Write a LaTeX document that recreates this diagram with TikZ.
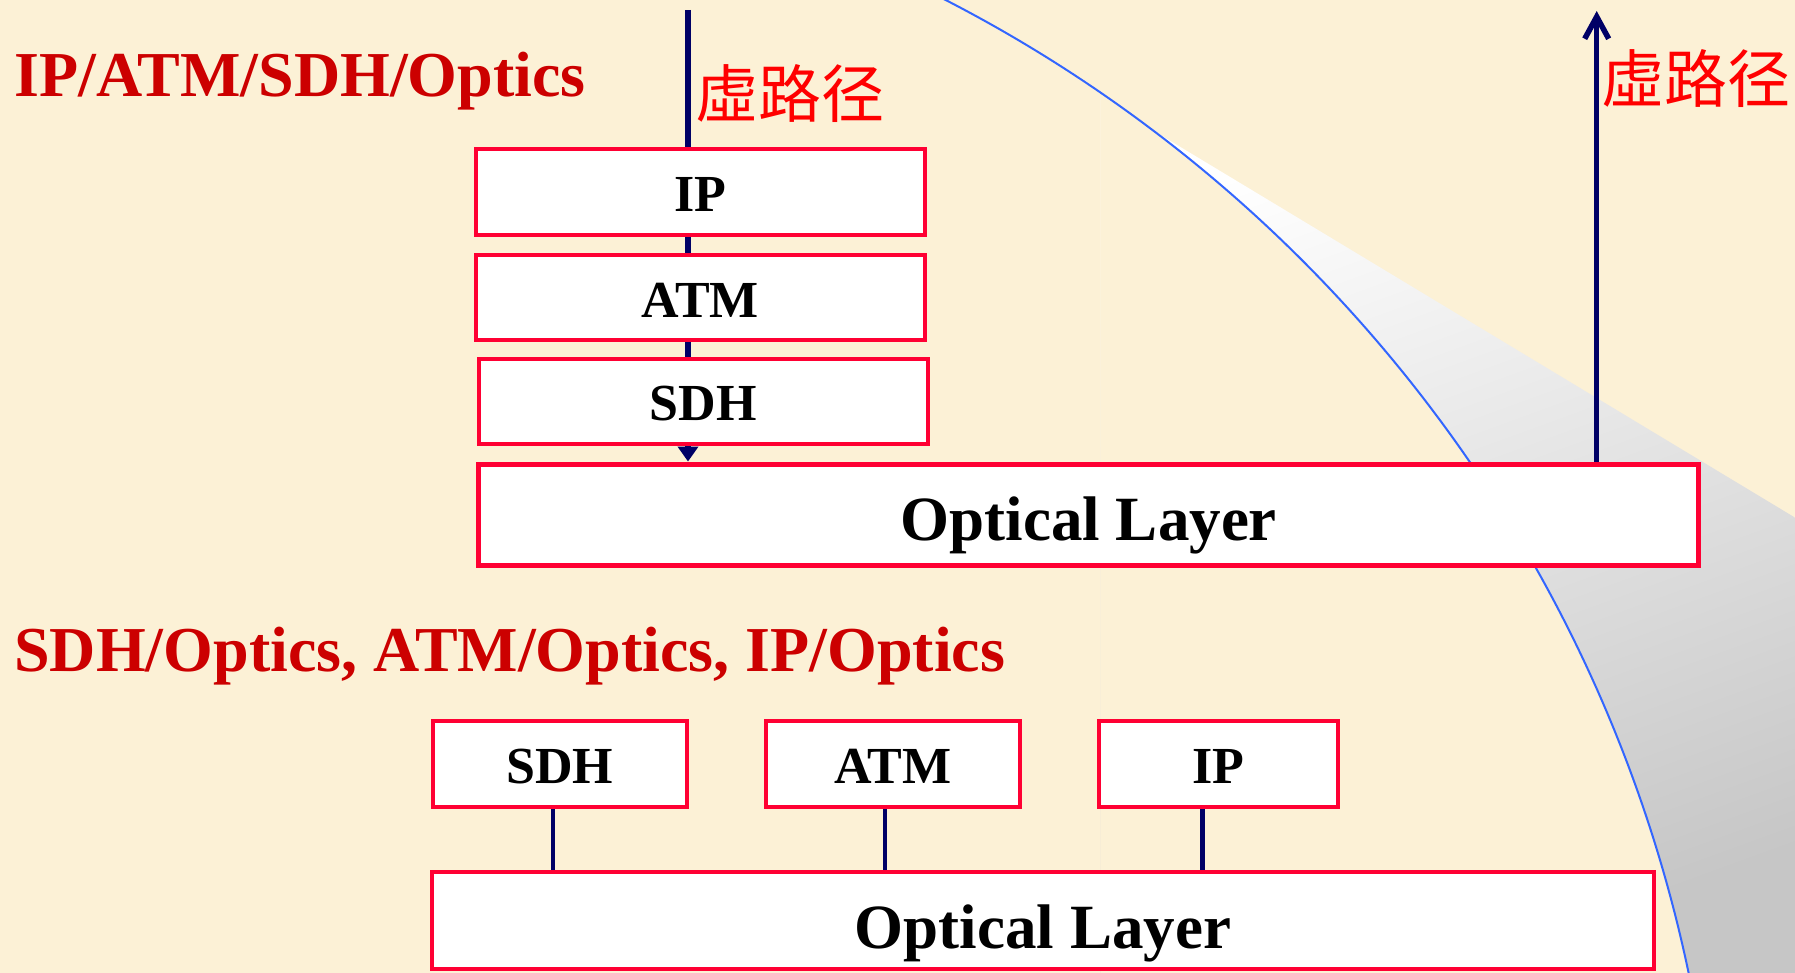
\documentclass[tikz,border=0pt]{standalone}
\usepackage{fontspec}
\setmainfont{Liberation Serif}
\newfontfamily\cjk{Noto Sans CJK SC}
\usetikzlibrary{arrows.meta}
\pgfdeclarelayer{background}
\pgfsetlayers{background,main}

\definecolor{bgbeige}{RGB}{252,241,214}
\definecolor{boxred}{RGB}{255,0,51}
\definecolor{headred}{RGB}{204,0,0}
\definecolor{labelred}{RGB}{255,0,0}
\definecolor{pathnavy}{RGB}{0,0,102}
\definecolor{arcblue}{RGB}{51,102,255}
\definecolor{shadegray}{RGB}{198,198,198}

\tikzset{
  layer/.style={draw=boxred, fill=white, line width=2pt, inner sep=0pt, text depth=0pt,
    text height=19.5pt, font=\bfseries\fontsize{26}{30}\selectfont},
  optical/.style={layer, line width=2.5pt, text height=25.5pt,
    font=\bfseries\fontsize{31.5}{36}\selectfont},
  heading/.style={text=headred, anchor=base west, inner sep=0pt,
    font=\bfseries\fontsize{32}{36}\selectfont},
  cjklabel/.style={text=labelred, anchor=west, inner sep=0pt,
    font=\cjk\fontsize{31.5}{36}\selectfont},
  vpath/.style={draw=pathnavy, line width=2.75pt},
}

\begin{document}
\begin{tikzpicture}[x=0.5pt,y=0.5pt,yscale=-1,xscale=1]
\useasboundingbox (0,0) rectangle (1795,973);

% Text Node
\node[heading] (head1) at (14,97) {IP/ATM/SDH/Optics};
% Text Node
\node[heading] (head2) at (14,671) {SDH/Optics, ATM/Optics, IP/Optics};
% Text Node
\node[cjklabel] (vpathL) at (695,93.5) {虛路径};
% Text Node
\node[cjklabel] (vpathR) at (1601,78.5) {虛路径};

%Shape: Rectangle -- stacked layers
\node[layer, minimum width=224.7pt, minimum height=43pt] (ipA) at (700.3,191.7) {IP};
\node[layer, minimum width=224.7pt, minimum height=42.5pt] (atmA) at (700.3,297.8) {ATM};
\node[layer, minimum width=224.5pt, minimum height=42.5pt] (sdhA) at (703,401.2) {SDH};
\node[optical, minimum width=610pt, minimum height=50.75pt] (optA) at (1088.8,514.8) {Optical Layer};

%Shape: Rectangle -- side by side layers
\node[layer, minimum width=126.7pt, minimum height=43pt] (sdhB) at (559.8,764) {SDH};
\node[layer, minimum width=127.2pt, minimum height=43pt] (atmB) at (892.8,764) {ATM};
\node[layer, minimum width=119.4pt, minimum height=43pt] (ipB) at (1218.1,764) {IP};
\node[optical, line width=2pt, text height=27.5pt, minimum width=611pt, minimum height=48.5pt] (optB) at (1043,920.5) {Optical Layer};

%Straight Lines
\draw[vpath, line width=2.25pt] ([xshift=-3.4pt]sdhB.south) -- ([xshift=-3.4pt]sdhB.south |- optB.north);
\draw[vpath, line width=2.25pt] ([xshift=-3.9pt]atmB.south) -- ([xshift=-3.9pt]atmB.south |- optB.north);
\draw[vpath, line width=2.25pt] ([xshift=-7.8pt]ipB.south) -- ([xshift=-7.8pt]ipB.south |- optB.north);

\begin{pgfonlayer}{background}
\fill[bgbeige] (0,0) rectangle (1795,973);
%Shape: curl
\begin{scope}
\clip (1100,98.5) -- (1795,517.6) -- (1795,973) -- (1100,973) -- cycle;
\begin{scope}[even odd rule]
\clip (1100,0) rectangle (1795,973) (295,1267) circle[radius=1424];
\shade[top color=white, bottom color=shadegray, shading angle=20] (1100,98.5) rectangle (1795,973);
\end{scope}
\end{scope}
%Shape: Arc
\begin{scope}
\clip (0,0) rectangle (1795,973);
\draw[arcblue, line width=1pt] (295,1267) circle[radius=1424];
\end{scope}
%Straight Lines
\coordinate (ltop) at (688,10);
\draw[vpath, -{Triangle[length=7.5pt,width=10pt]}] (ltop) -- (ltop |- optA.north);
\coordinate (rtop) at (1596.7,11);
\draw[vpath, -{Straight Barb[length=11pt,width=12pt]}] (rtop |- optA.north) -- (rtop);
\end{pgfonlayer}

\end{tikzpicture}
\end{document}
